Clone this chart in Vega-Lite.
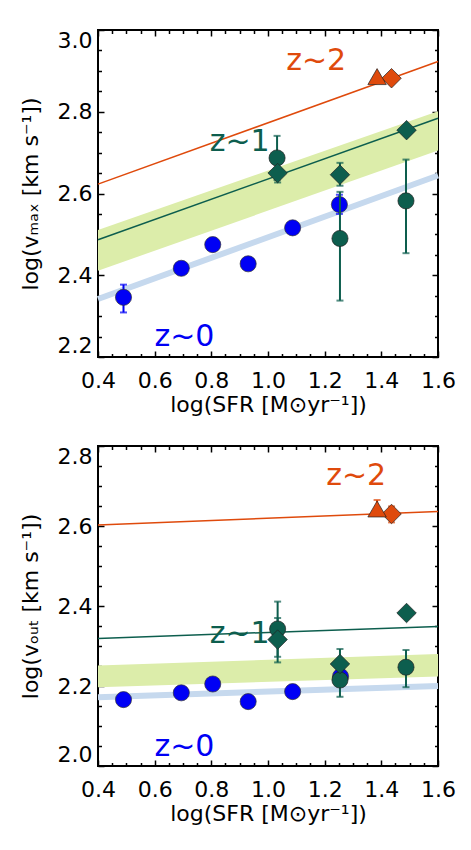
{
  "$schema": "https://vega.github.io/schema/vega-lite/v6.json",
  "autosize": {"type": "pad"},
  "padding": {"left": 18, "top": 28, "right": 5, "bottom": 5},
  "background": "white",
  "bounds": "flush",
  "spacing": 89,
  "datasets": {
    "band_top": [{"x": 0.4, "lo": 2.411, "hi": 2.511}, {"x": 1.6, "lo": 2.705, "hi": 2.801}],
    "band_bot": [{"x": 0.4, "lo": 2.197, "hi": 2.251}, {"x": 1.6, "lo": 2.224, "hi": 2.28}],
    "lines_top": [
      {"x": 0.4, "y": 2.342, "g": "z~0"}, {"x": 1.6, "y": 2.644, "g": "z~0"},
      {"x": 0.4, "y": 2.487, "g": "z~1"}, {"x": 1.6, "y": 2.784, "g": "z~1"},
      {"x": 0.4, "y": 2.623, "g": "z~2"}, {"x": 1.6, "y": 2.923, "g": "z~2"}
    ],
    "lines_bot": [
      {"x": 0.4, "y": 2.172, "g": "z~0"}, {"x": 1.6, "y": 2.2, "g": "z~0"},
      {"x": 0.4, "y": 2.319, "g": "z~1"}, {"x": 1.6, "y": 2.349, "g": "z~1"},
      {"x": 0.4, "y": 2.6025, "g": "z~2"}, {"x": 1.6, "y": 2.636, "g": "z~2"}
    ],
    "pts_top": [
      {"x": 0.49, "y": 2.346, "g": "z~0", "s": "circle"},
      {"x": 0.694, "y": 2.417, "g": "z~0", "s": "circle"},
      {"x": 0.805, "y": 2.475, "g": "z~0", "s": "circle"},
      {"x": 0.93, "y": 2.428, "g": "z~0", "s": "circle"},
      {"x": 1.087, "y": 2.516, "g": "z~0", "s": "circle"},
      {"x": 1.252, "y": 2.573, "g": "z~0", "s": "circle"},
      {"x": 1.032, "y": 2.687, "g": "z~1", "s": "circle"},
      {"x": 1.254, "y": 2.49, "g": "z~1", "s": "circle"},
      {"x": 1.487, "y": 2.582, "g": "z~1", "s": "circle"},
      {"x": 1.034, "y": 2.65, "g": "z~1", "s": "diamond"},
      {"x": 1.254, "y": 2.646, "g": "z~1", "s": "diamond"},
      {"x": 1.489, "y": 2.755, "g": "z~1", "s": "diamond"},
      {"x": 1.436, "y": 2.882, "g": "z~2", "s": "diamond"},
      {"x": 1.385, "y": 2.886, "g": "z~2", "s": "triangle"}
    ],
    "errs_top": [
      {"x": 0.49, "lo": 2.309, "hi": 2.377, "g": "z~0"},
      {"x": 1.252, "lo": 2.55, "hi": 2.597, "g": "z~0"},
      {"x": 1.032, "lo": 2.633, "hi": 2.741, "g": "z~1"},
      {"x": 1.254, "lo": 2.338, "hi": 2.604, "g": "z~1"},
      {"x": 1.487, "lo": 2.454, "hi": 2.683, "g": "z~1"},
      {"x": 1.034, "lo": 2.627, "hi": 2.673, "g": "z~1"},
      {"x": 1.254, "lo": 2.619, "hi": 2.675, "g": "z~1"}
    ],
    "pts_bot": [
      {"x": 0.49, "y": 2.166, "g": "z~0", "s": "circle"},
      {"x": 0.694, "y": 2.183, "g": "z~0", "s": "circle"},
      {"x": 0.805, "y": 2.205, "g": "z~0", "s": "circle"},
      {"x": 0.93, "y": 2.161, "g": "z~0", "s": "circle"},
      {"x": 1.087, "y": 2.186, "g": "z~0", "s": "circle"},
      {"x": 1.256, "y": 2.224, "g": "z~0", "s": "circle"},
      {"x": 1.034, "y": 2.3425, "g": "z~1", "s": "circle"},
      {"x": 1.254, "y": 2.215, "g": "z~1", "s": "circle"},
      {"x": 1.487, "y": 2.247, "g": "z~1", "s": "circle"},
      {"x": 1.034, "y": 2.316, "g": "z~1", "s": "diamond"},
      {"x": 1.254, "y": 2.255, "g": "z~1", "s": "diamond"},
      {"x": 1.489, "y": 2.3825, "g": "z~1", "s": "diamond"},
      {"x": 1.436, "y": 2.63, "g": "z~2", "s": "diamond"},
      {"x": 1.385, "y": 2.6425, "g": "z~2", "s": "triangle"}
    ],
    "errs_bot": [
      {"x": 1.034, "lo": 2.273, "hi": 2.411, "g": "z~1"},
      {"x": 1.034, "lo": 2.259, "hi": 2.37, "g": "z~1"},
      {"x": 1.254, "lo": 2.173, "hi": 2.2925, "g": "z~1"},
      {"x": 1.487, "lo": 2.197, "hi": 2.29, "g": "z~1"},
      {"x": 1.436, "lo": 2.609, "hi": 2.649, "g": "z~2"},
      {"x": 1.385, "lo": 2.64, "hi": 2.665, "g": "z~2"}
    ],
    "labels_top": [
      {"x": 1.17, "y": 2.925, "t": "z~2", "g": "z~2"},
      {"x": 0.9, "y": 2.725, "t": "z~1", "g": "z~1"},
      {"x": 0.705, "y": 2.248, "t": "z~0", "g": "z~0"}
    ],
    "labels_bot": [
      {"x": 1.311, "y": 2.726, "t": "z~2", "g": "z~2"},
      {"x": 0.9, "y": 2.33, "t": "z~1", "g": "z~1"},
      {"x": 0.705, "y": 2.047, "t": "z~0", "g": "z~0"}
    ]
  },
  "vconcat": [
    {
      "width": 340,
      "height": 327,
      "resolve": {"axis": {"x": "independent", "y": "independent"}},
      "layer": [
        {
          "data": {"name": "band_top"},
          "mark": {"type": "area", "color": "#dcedaa", "opacity": 1},
          "encoding": {
            "x": {"field": "x", "type": "quantitative", "scale": {"domain": [0.4, 1.6], "nice": false, "zero": false},
                  "axis": {"orient": "bottom", "values": [0.4, 0.6, 0.8, 1.0, 1.2, 1.4, 1.6], "format": ".1f", "tickSize": 0, "labelPadding": 13, "labelFlush": false, "title": "log(SFR [M⊙yr⁻¹])", "titlePadding": 3}},
            "y": {"field": "lo", "type": "quantitative", "scale": {"domain": [2.2, 3.0], "nice": false, "zero": false},
                  "axis": {"orient": "left", "values": [2.2, 2.4, 2.6, 2.8, 3.0], "format": ".1f", "tickSize": 0, "labelPadding": 6, "labelFlush": true, "title": "log(vₘₐₓ [km s⁻¹])", "titlePadding": 15}},
            "y2": {"field": "hi"}
          }
        },
        {
          "data": {"name": "lines_top"},
          "transform": [{"filter": "datum.g === 'z~0'"}],
          "mark": {"type": "line", "color": "#c6d9ee", "strokeWidth": 6},
          "encoding": {
            "x": {"field": "x", "type": "quantitative", "axis": {"orient": "bottom", "values": [0.4, 0.6, 0.8, 1.0, 1.2, 1.4, 1.6], "tickSize": -6, "labels": false, "title": null}},
            "y": {"field": "y", "type": "quantitative", "axis": {"orient": "left", "values": [2.2, 2.4, 2.6, 2.8, 3.0], "tickSize": -6, "labels": false, "title": null}}
          }
        },
        {
          "data": {"name": "lines_top"},
          "transform": [{"filter": "datum.g !== 'z~0'"}],
          "mark": {"type": "line", "strokeWidth": 1.5},
          "encoding": {
            "x": {"field": "x", "type": "quantitative", "axis": {"orient": "bottom", "values": [0.45, 0.5, 0.55, 0.65, 0.7, 0.75, 0.85, 0.9, 0.95, 1.05, 1.1, 1.15, 1.25, 1.3, 1.35, 1.45, 1.5, 1.55], "tickSize": -3.5, "labels": false, "title": null}},
            "y": {"field": "y", "type": "quantitative", "axis": {"orient": "left", "values": [2.25, 2.3, 2.35, 2.45, 2.5, 2.55, 2.65, 2.7, 2.75, 2.85, 2.9, 2.95], "tickSize": -3.5, "labels": false, "title": null}},
            "color": {"field": "g", "type": "nominal", "scale": {"domain": ["z~0", "z~1", "z~2"], "range": ["#0000f5", "#0d5e4e", "#df4a0c"]}, "legend": null},
            "detail": {"field": "g"}
          }
        },
        {
          "data": {"name": "errs_top"},
          "transform": [{"filter": "datum.g === 'z~0'"}],
          "layer": [
            {"mark": {"type": "rule", "strokeWidth": 2}, "encoding": {"y": {"field": "lo", "type": "quantitative", "axis": null}, "y2": {"field": "hi"}}},
            {"mark": {"type": "tick", "orient": "horizontal", "size": 7, "thickness": 2}, "encoding": {"y": {"field": "lo", "type": "quantitative", "axis": null}}},
            {"mark": {"type": "tick", "orient": "horizontal", "size": 7, "thickness": 2}, "encoding": {"y": {"field": "hi", "type": "quantitative", "axis": null}}}
          ],
          "encoding": {
            "x": {"field": "x", "type": "quantitative", "axis": null},
            "color": {"field": "g", "type": "nominal", "legend": null}
          }
        },
        {
          "data": {"name": "pts_top"},
          "transform": [{"filter": "datum.g === 'z~0'"}],
          "mark": {"type": "point", "shape": "circle", "filled": true, "size": 260, "stroke": "#333333", "strokeWidth": 0.7, "opacity": 1},
          "encoding": {
            "x": {"field": "x", "type": "quantitative", "axis": {"orient": "top", "values": [0.4, 0.6, 0.8, 1.0, 1.2, 1.4, 1.6], "tickSize": -6, "labels": false, "title": null}},
            "y": {"field": "y", "type": "quantitative", "axis": {"orient": "right", "values": [2.2, 2.4, 2.6, 2.8, 3.0], "tickSize": -6, "labels": false, "title": null}},
            "color": {"field": "g", "type": "nominal", "legend": null}
          }
        },
        {
          "data": {"name": "errs_top"},
          "transform": [{"filter": "datum.g !== 'z~0'"}],
          "layer": [
            {"mark": {"type": "rule", "strokeWidth": 2}, "encoding": {"y": {"field": "lo", "type": "quantitative", "axis": null}, "y2": {"field": "hi"}}},
            {"mark": {"type": "tick", "orient": "horizontal", "size": 7, "thickness": 2}, "encoding": {"y": {"field": "lo", "type": "quantitative", "axis": null}}},
            {"mark": {"type": "tick", "orient": "horizontal", "size": 7, "thickness": 2}, "encoding": {"y": {"field": "hi", "type": "quantitative", "axis": null}}}
          ],
          "encoding": {
            "x": {"field": "x", "type": "quantitative", "axis": null},
            "color": {"field": "g", "type": "nominal", "legend": null}
          }
        },
        {
          "data": {"name": "pts_top"},
          "transform": [{"filter": "datum.g !== 'z~0' && datum.s === 'circle'"}],
          "mark": {"type": "point", "shape": "circle", "filled": true, "size": 260, "stroke": "#222222", "strokeWidth": 0.7, "opacity": 1},
          "encoding": {
            "x": {"field": "x", "type": "quantitative", "axis": null},
            "y": {"field": "y", "type": "quantitative", "axis": null},
            "color": {"field": "g", "type": "nominal", "legend": null}
          }
        },
        {
          "data": {"name": "pts_top"},
          "transform": [{"filter": "datum.s === 'diamond'"}],
          "mark": {"type": "point", "shape": "diamond", "filled": true, "size": 380, "stroke": "#222222", "strokeWidth": 0.7, "opacity": 1},
          "encoding": {
            "x": {"field": "x", "type": "quantitative", "axis": null},
            "y": {"field": "y", "type": "quantitative", "axis": null},
            "color": {"field": "g", "type": "nominal", "legend": null}
          }
        },
        {
          "data": {"name": "pts_top"},
          "transform": [{"filter": "datum.s === 'triangle'"}],
          "mark": {"type": "point", "shape": "triangle-up", "filled": true, "size": 340, "stroke": "#222222", "strokeWidth": 0.7, "opacity": 1},
          "encoding": {
            "x": {"field": "x", "type": "quantitative", "axis": null},
            "y": {"field": "y", "type": "quantitative", "axis": null},
            "color": {"field": "g", "type": "nominal", "legend": null}
          }
        },
        {
          "data": {"name": "labels_top"},
          "mark": {"type": "text", "fontSize": 30, "align": "center", "baseline": "middle", "font": "DejaVu Sans"},
          "encoding": {
            "x": {"field": "x", "type": "quantitative", "axis": {"orient": "top", "values": [0.45, 0.5, 0.55, 0.65, 0.7, 0.75, 0.85, 0.9, 0.95, 1.05, 1.1, 1.15, 1.25, 1.3, 1.35, 1.45, 1.5, 1.55], "tickSize": -3.5, "labels": false, "title": null}},
            "y": {"field": "y", "type": "quantitative", "axis": {"orient": "right", "values": [2.25, 2.3, 2.35, 2.45, 2.5, 2.55, 2.65, 2.7, 2.75, 2.85, 2.9, 2.95], "tickSize": -3.5, "labels": false, "title": null}},
            "text": {"field": "t"},
            "color": {"field": "g", "type": "nominal", "legend": null}
          }
        }
      ]
    },
    {
      "width": 340,
      "height": 320,
      "resolve": {"axis": {"x": "independent", "y": "independent"}},
      "layer": [
        {
          "data": {"name": "band_bot"},
          "mark": {"type": "area", "color": "#dcedaa", "opacity": 1},
          "encoding": {
            "x": {"field": "x", "type": "quantitative", "scale": {"domain": [0.4, 1.6], "nice": false, "zero": false},
                  "axis": {"orient": "bottom", "values": [0.4, 0.6, 0.8, 1.0, 1.2, 1.4, 1.6], "format": ".1f", "tickSize": 0, "labelPadding": 13, "labelFlush": false, "title": "log(SFR [M⊙yr⁻¹])", "titlePadding": 3}},
            "y": {"field": "lo", "type": "quantitative", "scale": {"domain": [2.0, 2.8], "nice": false, "zero": false},
                  "axis": {"orient": "left", "values": [2.0, 2.2, 2.4, 2.6, 2.8], "format": ".1f", "tickSize": 0, "labelPadding": 6, "labelFlush": true, "title": "log(vₒᵤₜ [km s⁻¹])", "titlePadding": 15}},
            "y2": {"field": "hi"}
          }
        },
        {
          "data": {"name": "lines_bot"},
          "transform": [{"filter": "datum.g === 'z~0'"}],
          "mark": {"type": "line", "color": "#c6d9ee", "strokeWidth": 6},
          "encoding": {
            "x": {"field": "x", "type": "quantitative", "axis": {"orient": "bottom", "values": [0.4, 0.6, 0.8, 1.0, 1.2, 1.4, 1.6], "tickSize": -6, "labels": false, "title": null}},
            "y": {"field": "y", "type": "quantitative", "axis": {"orient": "left", "values": [2.0, 2.2, 2.4, 2.6, 2.8], "tickSize": -6, "labels": false, "title": null}}
          }
        },
        {
          "data": {"name": "lines_bot"},
          "transform": [{"filter": "datum.g !== 'z~0'"}],
          "mark": {"type": "line", "strokeWidth": 1.5},
          "encoding": {
            "x": {"field": "x", "type": "quantitative", "axis": {"orient": "bottom", "values": [0.45, 0.5, 0.55, 0.65, 0.7, 0.75, 0.85, 0.9, 0.95, 1.05, 1.1, 1.15, 1.25, 1.3, 1.35, 1.45, 1.5, 1.55], "tickSize": -3.5, "labels": false, "title": null}},
            "y": {"field": "y", "type": "quantitative", "axis": {"orient": "left", "values": [2.05, 2.1, 2.15, 2.25, 2.3, 2.35, 2.45, 2.5, 2.55, 2.65, 2.7, 2.75], "tickSize": -3.5, "labels": false, "title": null}},
            "color": {"field": "g", "type": "nominal", "scale": {"domain": ["z~0", "z~1", "z~2"], "range": ["#0000f5", "#0d5e4e", "#df4a0c"]}, "legend": null},
            "detail": {"field": "g"}
          }
        },
        {
          "data": {"name": "pts_bot"},
          "transform": [{"filter": "datum.g === 'z~0'"}],
          "mark": {"type": "point", "shape": "circle", "filled": true, "size": 260, "stroke": "#333333", "strokeWidth": 0.7, "opacity": 1},
          "encoding": {
            "x": {"field": "x", "type": "quantitative", "axis": {"orient": "top", "values": [0.4, 0.6, 0.8, 1.0, 1.2, 1.4, 1.6], "tickSize": -6, "labels": false, "title": null}},
            "y": {"field": "y", "type": "quantitative", "axis": {"orient": "right", "values": [2.0, 2.2, 2.4, 2.6, 2.8], "tickSize": -6, "labels": false, "title": null}},
            "color": {"field": "g", "type": "nominal", "legend": null}
          }
        },
        {
          "data": {"name": "errs_bot"},
          "layer": [
            {"mark": {"type": "rule", "strokeWidth": 2}, "encoding": {"y": {"field": "lo", "type": "quantitative", "axis": null}, "y2": {"field": "hi"}}},
            {"mark": {"type": "tick", "orient": "horizontal", "size": 7, "thickness": 2}, "encoding": {"y": {"field": "lo", "type": "quantitative", "axis": null}}},
            {"mark": {"type": "tick", "orient": "horizontal", "size": 7, "thickness": 2}, "encoding": {"y": {"field": "hi", "type": "quantitative", "axis": null}}}
          ],
          "encoding": {
            "x": {"field": "x", "type": "quantitative", "axis": null},
            "color": {"field": "g", "type": "nominal", "legend": null}
          }
        },
        {
          "data": {"name": "pts_bot"},
          "transform": [{"filter": "datum.g !== 'z~0' && datum.s === 'circle'"}],
          "mark": {"type": "point", "shape": "circle", "filled": true, "size": 260, "stroke": "#222222", "strokeWidth": 0.7, "opacity": 1},
          "encoding": {
            "x": {"field": "x", "type": "quantitative", "axis": null},
            "y": {"field": "y", "type": "quantitative", "axis": null},
            "color": {"field": "g", "type": "nominal", "legend": null}
          }
        },
        {
          "data": {"name": "pts_bot"},
          "transform": [{"filter": "datum.s === 'diamond'"}],
          "mark": {"type": "point", "shape": "diamond", "filled": true, "size": 380, "stroke": "#222222", "strokeWidth": 0.7, "opacity": 1},
          "encoding": {
            "x": {"field": "x", "type": "quantitative", "axis": null},
            "y": {"field": "y", "type": "quantitative", "axis": null},
            "color": {"field": "g", "type": "nominal", "legend": null}
          }
        },
        {
          "data": {"name": "pts_bot"},
          "transform": [{"filter": "datum.s === 'triangle'"}],
          "mark": {"type": "point", "shape": "triangle-up", "filled": true, "size": 340, "stroke": "#222222", "strokeWidth": 0.7, "opacity": 1},
          "encoding": {
            "x": {"field": "x", "type": "quantitative", "axis": null},
            "y": {"field": "y", "type": "quantitative", "axis": null},
            "color": {"field": "g", "type": "nominal", "legend": null}
          }
        },
        {
          "data": {"name": "labels_bot"},
          "mark": {"type": "text", "fontSize": 30, "align": "center", "baseline": "middle", "font": "DejaVu Sans"},
          "encoding": {
            "x": {"field": "x", "type": "quantitative", "axis": {"orient": "top", "values": [0.45, 0.5, 0.55, 0.65, 0.7, 0.75, 0.85, 0.9, 0.95, 1.05, 1.1, 1.15, 1.25, 1.3, 1.35, 1.45, 1.5, 1.55], "tickSize": -3.5, "labels": false, "title": null}},
            "y": {"field": "y", "type": "quantitative", "axis": {"orient": "right", "values": [2.05, 2.1, 2.15, 2.25, 2.3, 2.35, 2.45, 2.5, 2.55, 2.65, 2.7, 2.75], "tickSize": -3.5, "labels": false, "title": null}},
            "text": {"field": "t"},
            "color": {"field": "g", "type": "nominal", "legend": null}
          }
        }
      ]
    }
  ],
  "config": {
    "font": "DejaVu Sans",
    "view": {"stroke": "black", "strokeWidth": 2},
    "axis": {"grid": false, "domain": false, "labelFont": "DejaVu Sans", "labelFontSize": 22, "labelColor": "black", "titleFont": "DejaVu Sans", "titleFontSize": 22, "titleFontWeight": "normal", "titleColor": "black", "tickColor": "black", "tickWidth": 1.5, "labelOverlap": false, "labelBound": false}
  }
}
